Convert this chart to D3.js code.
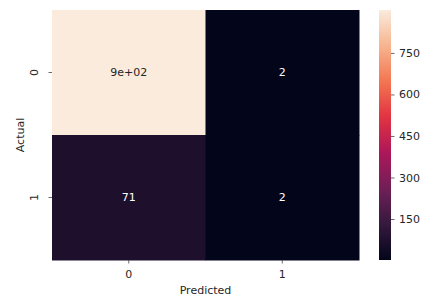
<!DOCTYPE html>
<html>
<head>
<meta charset="utf-8">
<script src="https://cdn.jsdelivr.net/npm/d3@7"></script>
<style>
  body { margin: 0; background: #fff; }
  text { font-family: "DejaVu Sans", sans-serif; }
</style>
</head>
<body>
<div id="confusion"></div>
<script>

// categories, values and labels
const actualLabels = ["0", "1"];
const predictedLabels = ["0", "1"];
const cellValues = [
  [905, 2],
  [71, 2]
];
const cellText = [
  ["9e+02", "2"],
  ["71", "2"]
];
const colorbarTicks = [150, 300, 450, 600, 750];

// seaborn "rocket" colour stops
const rocketStops = ["#03051a", "#35193e", "#701f57", "#ad1759", "#e13342", "#f37651", "#f6b48f", "#faebdd"];

const totalWidth = 422;
const totalHeight = 298;
const margin = {top: 10, right: 63, bottom: 38, left: 52};
const width = totalWidth - margin.left - margin.right;   // 307
const height = totalHeight - margin.top - margin.bottom; // 250

const svg = d3.select("#confusion")
  .append("svg")
    .attr("width", totalWidth)
    .attr("height", totalHeight);

const g = svg.append("g")
  .attr("transform", `translate(${margin.left},${margin.top})`);

// flat list of cells
const cells = [];
actualLabels.forEach((a, i) => {
  predictedLabels.forEach((p, j) => {
    cells.push({actual: a, predicted: p, value: cellValues[i][j], label: cellText[i][j]});
  });
});

const extent = d3.extent(cells, d => d.value);

// colour scale: rocket stops spread evenly over [vmin, vmax]
const color = d3.scaleLinear()
  .domain(rocketStops.map((c, i) => extent[0] + (extent[1] - extent[0]) * i / (rocketStops.length - 1)))
  .range(rocketStops)
  .interpolate(d3.interpolateRgb);

const x = d3.scaleBand()
  .domain(predictedLabels)
  .range([0, width]);

const y = d3.scaleBand()
  .domain(actualLabels)
  .range([0, height]);

// cells
g.selectAll("rect.cell")
  .data(cells)
  .join("rect")
    .attr("class", "cell")
    .attr("x", d => x(d.predicted))
    .attr("y", d => y(d.actual))
    .attr("width", x.bandwidth() + 0.5)
    .attr("height", y.bandwidth() + 0.5)
    .attr("fill", d => color(d.value));

// annotations
g.selectAll("text.annot")
  .data(cells)
  .join("text")
    .attr("class", "annot")
    .attr("x", d => x(d.predicted) + x.bandwidth() / 2)
    .attr("y", d => y(d.actual) + y.bandwidth() / 2)
    .attr("dy", "0.36em")
    .attr("text-anchor", "middle")
    .style("font-size", "11px")
    .style("fill", d => d3.hsl(color(d.value)).l > 0.5 ? "#262626" : "#ffffff")
    .text(d => d.label);

// X axis
const xAxis = g.append("g")
  .attr("transform", `translate(0,${height})`)
  .call(d3.axisBottom(x).tickSize(3.5).tickSizeOuter(0));
xAxis.select(".domain").remove();
xAxis.selectAll("line").attr("stroke", "#444").attr("stroke-width", 0.8);
xAxis.selectAll("text")
  .attr("y", 18)
  .attr("dy", 0)
  .style("font-size", "11px")
  .style("fill", "#262626");

// Y axis, labels turned vertical
const yAxis = g.append("g")
  .call(d3.axisLeft(y).tickSize(3.5).tickSizeOuter(0));
yAxis.select(".domain").remove();
yAxis.selectAll("line").attr("stroke", "#444").attr("stroke-width", 0.8);
yAxis.selectAll("text")
  .attr("transform", "rotate(-90)")
  .attr("x", 0)
  .attr("y", -14)
  .attr("dy", 0)
  .attr("text-anchor", "middle")
  .style("font-size", "11px")
  .style("fill", "#262626");

// axis titles
g.append("text")
  .attr("x", width / 2)
  .attr("y", height + 34)
  .attr("text-anchor", "middle")
  .style("font-size", "11px")
  .style("fill", "#262626")
  .text("Predicted");

g.append("text")
  .attr("transform", `translate(${24 - margin.left},${height / 2}) rotate(-90)`)
  .attr("text-anchor", "middle")
  .style("font-size", "11px")
  .style("fill", "#262626")
  .text("Actual");

// colour bar
const cbX = 379;
const cbWidth = 12;
const cbScale = d3.scaleLinear()
  .domain(extent)
  .range([margin.top + height, margin.top]);

const grad = svg.append("defs")
  .append("linearGradient")
    .attr("id", "rocketGrad")
    .attr("x1", 0).attr("y1", 1)
    .attr("x2", 0).attr("y2", 0);

grad.selectAll("stop")
  .data(d3.range(0, 1.0001, 0.02))
  .join("stop")
    .attr("offset", d => d)
    .attr("stop-color", d => color(extent[0] + d * (extent[1] - extent[0])));

svg.append("rect")
  .attr("x", cbX)
  .attr("y", margin.top)
  .attr("width", cbWidth)
  .attr("height", height)
  .attr("fill", "url(#rocketGrad)");

const cbAxis = svg.append("g")
  .attr("transform", `translate(${cbX + cbWidth},0)`)
  .call(d3.axisRight(cbScale).tickValues(colorbarTicks).tickSize(3.5).tickPadding(4.5));
cbAxis.select(".domain").remove();
cbAxis.selectAll("line").attr("stroke", "#444").attr("stroke-width", 0.8);
cbAxis.selectAll("text")
  .style("font-size", "11px")
  .style("fill", "#262626");

</script>
</body>
</html>
